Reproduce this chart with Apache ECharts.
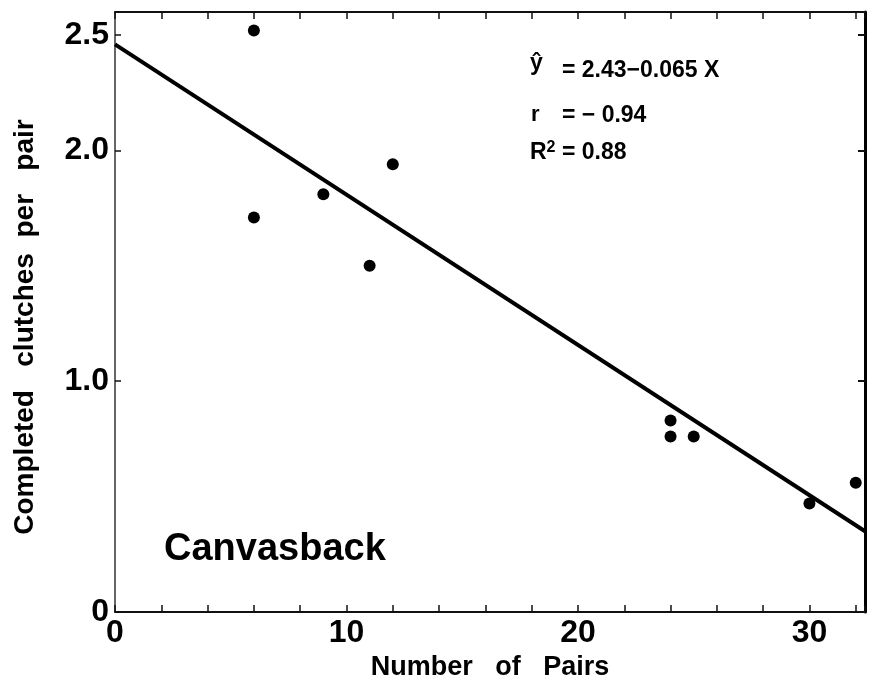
<!DOCTYPE html>
<html>
<head>
<meta charset="utf-8">
<script src="https://cdn.jsdelivr.net/npm/echarts@6/dist/echarts.min.js"></script>
<style>
  html, body { margin: 0; padding: 0; background: #fff; }
  #main { width: 870px; height: 677px; }
</style>
</head>
<body>
<div id="main"></div>
<script>
var dom = document.getElementById('main');
var myChart = echarts.init(dom);

// observed points
var pairs = [6, 6, 9, 11, 12, 24, 24, 25, 30, 32];
var clutches = [2.52, 1.71, 1.81, 1.50, 1.94, 0.83, 0.76, 0.76, 0.47, 0.56];

// regression line as drawn (end points)
var fitX = [0, 32.4];
var fitY = [2.46, 0.35];

var yTicks = [0, 1, 2, 2.5];
var yTicksRight = [1, 2, 2.5];

var font = 'Liberation Sans';

var points = pairs.map(function (x, i) { return [x, clutches[i]]; });
var fitLine = fitX.map(function (x, i) { return [x, fitY[i]]; });

var option = {
  backgroundColor: '#fff',
  animation: false,
  grid: { left: 115, right: 5, top: 12, bottom: 65, outerBoundsMode: 'none', containLabel: false },
  xAxis: [{
    type: 'value',
    min: 0,
    max: 32.4,
    interval: 2,
    name: 'Number   of   Pairs',
    nameLocation: 'middle',
    nameGap: 41,
    nameTextStyle: { fontFamily: font, fontWeight: 'bold', fontSize: 27, color: '#000' },
    splitLine: { show: false },
    axisLine: { onZero: false, lineStyle: { color: '#111', width: 2 } },
    axisTick: { inside: true, length: 7, lineStyle: { color: '#111', width: 1.5 } },
    axisLabel: {
      margin: 5,
      fontFamily: font, fontWeight: 'bold', fontSize: 32, color: '#000',
      formatter: function (v) { return v % 10 === 0 ? String(v) : ''; }
    }
  }, {
    type: 'value',
    position: 'top',
    min: 0,
    max: 32.4,
    interval: 2,
    splitLine: { show: false },
    axisLine: { onZero: false, lineStyle: { color: '#111', width: 2 } },
    axisTick: { inside: true, length: 7, lineStyle: { color: '#111', width: 1.5 } },
    axisLabel: { show: false }
  }],
  yAxis: [{
    type: 'value',
    min: 0,
    max: 2.6,
    name: 'Completed   clutches  per   pair',
    nameLocation: 'middle',
    nameRotate: 90,
    nameGap: 76,
    nameTextStyle: {
      fontFamily: font, fontWeight: 'bold', fontSize: 28, color: '#000',
      padding: [0, 30, 0, 0]
    },
    splitLine: { show: false },
    axisLine: { onZero: false, lineStyle: { color: '#333', width: 1.5 } },
    axisTick: { inside: true, length: 6, customValues: yTicks, lineStyle: { color: '#111', width: 1.5 } },
    axisLabel: {
      margin: 6,
      customValues: yTicks,
      fontFamily: font, fontWeight: 'bold', fontSize: 32, color: '#000',
      formatter: function (v) { return v === 0 ? '0' : v.toFixed(1); }
    }
  }, {
    type: 'value',
    position: 'right',
    min: 0,
    max: 2.6,
    splitLine: { show: false },
    axisLine: { onZero: false, lineStyle: { color: '#000', width: 3 } },
    axisTick: { inside: true, length: 7, customValues: yTicksRight, lineStyle: { color: '#111', width: 2 } },
    axisLabel: { show: false }
  }],
  graphic: [{
    type: 'text', left: 530, top: 52,
    style: { text: 'ŷ', fontFamily: font, fontWeight: 'bold', fontSize: 23, fill: '#000' }
  }, {
    type: 'text', left: 562, top: 59,
    style: { text: '= 2.43−0.065 X', fontFamily: font, fontWeight: 'bold', fontSize: 23, fill: '#000' }
  }, {
    type: 'text', left: 531, top: 104,
    style: { text: 'r', fontFamily: font, fontWeight: 'bold', fontSize: 22, fill: '#000' }
  }, {
    type: 'text', left: 562, top: 104,
    style: { text: '= − 0.94', fontFamily: font, fontWeight: 'bold', fontSize: 23, fill: '#000' }
  }, {
    type: 'text', left: 530, top: 140,
    style: {
      text: 'R{sup|2} = 0.88',
      fontFamily: font, fontWeight: 'bold', fontSize: 23, fill: '#000',
      rich: { sup: { fontFamily: font, fontWeight: 'bold', fontSize: 16, verticalAlign: 'top', padding: [0, 0, 9, 0] } }
    }
  }, {
    type: 'text', left: 164, top: 531,
    style: { text: 'Canvasback', fontFamily: font, fontWeight: 'bold', fontSize: 38, fill: '#000' }
  }],
  series: [{
    type: 'line',
    data: fitLine,
    symbol: 'none',
    lineStyle: { color: '#000', width: 4 },
    silent: true
  }, {
    type: 'scatter',
    data: points,
    symbol: 'circle',
    symbolSize: 12,
    itemStyle: { color: '#000', opacity: 1 }
  }]
};

if (option && typeof option === 'object') {
  myChart.setOption(option, true);
}
</script>
</body>
</html>
